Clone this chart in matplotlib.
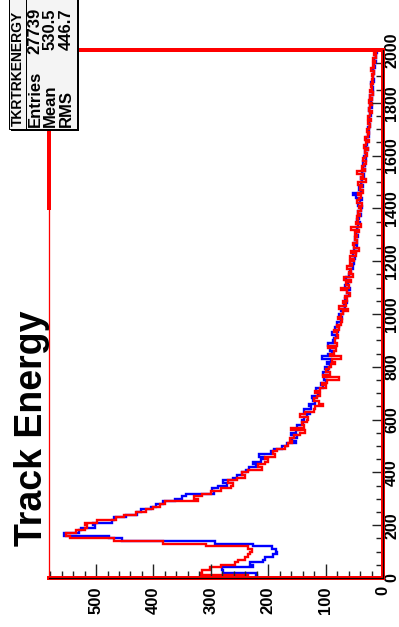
import numpy as np
import matplotlib
matplotlib.use("Agg")
import matplotlib.pyplot as plt
from matplotlib.patches import Rectangle
from matplotlib.lines import Line2D
from matplotlib.ticker import MultipleLocator

plt.rcParams['font.family'] = ['Liberation Sans', 'DejaVu Sans']

# Track energy histogram: 200 bins of 10 units from 0 to 2000
bin_edges = np.arange(0, 2001, 10)

counts_blue = [
    220, 221, 279, 281, 226, 231, 209, 206, 191, 184,
    186, 193, 226, 292, 455, 477, 556, 529, 527, 501,
    506, 472, 468, 447, 428, 421, 404, 396, 384, 362,
    350, 343, 294, 298, 287, 272, 279, 262, 255, 246,
    238, 233, 222, 226, 212, 208, 216, 196, 190, 176,
    168, 152, 158, 149, 160, 151, 144, 150, 139, 141,
    137, 132, 128, 137, 125, 129, 118, 122, 124, 113,
    112, 116, 104, 108, 99, 103, 97, 105, 96, 101,
    93, 98, 91, 106, 95, 88, 92, 84, 96, 87,
    85, 82, 88, 79, 84, 76, 80, 74, 71, 77,
    70, 73, 66, 68, 62, 67, 64, 60, 63, 58,
    66, 61, 57, 64, 59, 55, 58, 53, 56, 51,
    54, 49, 52, 47, 50, 46, 51, 45, 48, 44,
    47, 43, 46, 44, 40, 45, 41, 38, 43, 39,
    36, 44, 40, 37, 47, 52, 38, 41, 35, 39,
    36, 38, 33, 37, 32, 35, 31, 34, 30, 33,
    29, 31, 27, 30, 28, 26, 29, 25, 27, 24,
    26, 23, 25, 22, 24, 21, 23, 25, 20, 22,
    21, 19, 22, 18, 20, 17, 19, 21, 16, 18,
    17, 15, 18, 14, 16, 13, 15, 12, 14, 11,
]

counts_red = [
    235, 318, 316, 301, 283, 258, 252, 240, 236, 232,
    229, 235, 308, 383, 468, 545, 553, 535, 519, 515,
    520, 498, 466, 452, 431, 413, 400, 389, 380, 322,
    330, 316, 300, 282, 265, 262, 270, 255, 240, 245,
    236, 210, 218, 206, 200, 205, 188, 192, 185, 170,
    165, 158, 162, 155, 145, 136, 160, 138, 142, 133,
    130, 145, 136, 121, 118, 104, 112, 120, 115, 109,
    118, 110, 100, 106, 98, 76, 104, 92, 99, 94,
    90, 84, 88, 74, 92, 86, 82, 95, 81, 84,
    83, 79, 80, 85, 76, 81, 74, 72, 79, 73,
    70, 61, 76, 65, 69, 63, 66, 58, 62, 73,
    60, 64, 56, 68, 52, 60, 55, 62, 54, 57,
    51, 58, 47, 55, 42, 50, 53, 46, 49, 45,
    48, 42, 55, 39, 47, 43, 45, 40, 44, 38,
    42, 37, 46, 41, 38, 43, 35, 40, 36, 44,
    30, 39, 34, 45, 31, 36, 33, 29, 35, 32,
    28, 32, 26, 33, 29, 25, 31, 27, 24, 28,
    25, 22, 27, 21, 26, 23, 20, 24, 22, 19,
    24, 20, 22, 18, 23, 19, 21, 17, 20, 18,
    19, 15, 21, 16, 18, 14, 17, 13, 15, 12,
]

title = "Track Energy"
stats_name = "TKRTRKENERGY"
stats_labels = ["Entries", "Mean", "RMS"]
stats_values = ["27739", "530.5", "446.7"]

W, H = 399, 627
fig = plt.figure(figsize=(W / 100, H / 100), dpi=100)
fig.patch.set_facecolor("white")

# plot frame in pixel units (the whole canvas is turned on its side)
L, R, T, B = 49, 383, 50, 578
ax = fig.add_axes([L / W, (H - B) / H, (R - L) / W, (B - T) / H])
ax.set_xlim(582, 0)
ax.set_ylim(0, 2000)

ax.stairs(counts_blue, bin_edges, orientation="horizontal", baseline=None,
          color="#0000ff", lw=1.7)
ax.stairs(counts_red, bin_edges, orientation="horizontal", baseline=None,
          color="#ff0000", lw=1.7)

px = 0.72  # points per pixel
for side in ("bottom", "right"):
    ax.spines[side].set_color("#ff0000")
    ax.spines[side].set_linewidth(4 * px)
ax.spines["top"].set_color("#ff0000")
ax.spines["top"].set_linewidth(4 * px)
ax.spines["left"].set_color("#ff0000")
ax.spines["left"].set_linewidth(1.3 * px)

# dark axis lines over the red frame
ax.add_line(Line2D([0, 1], [0, 0], transform=ax.transAxes, color="black",
                   lw=1.2 * px, clip_on=False, zorder=5))
ax.add_line(Line2D([1, 1], [0, 1], transform=ax.transAxes, color="black",
                   lw=1.2 * px, clip_on=False, zorder=5))
# heavier piece of the left frame edge
ax.add_line(Line2D([0, 0], [(B - 208) / (B - T), (B - 130) / (B - T)],
                   transform=ax.transAxes, color="#ff0000", lw=4 * px,
                   clip_on=False, zorder=5))

ax.xaxis.set_major_locator(MultipleLocator(100))
ax.xaxis.set_minor_locator(MultipleLocator(20))
ax.yaxis.set_major_locator(MultipleLocator(200))
ax.yaxis.set_minor_locator(MultipleLocator(50))
ax.yaxis.tick_right()
ax.tick_params(axis="x", which="major", direction="in", length=14 * px,
               width=1.4 * px, color="#222222", pad=6.0, labelsize=12)
ax.tick_params(axis="x", which="minor", direction="in", length=7 * px,
               width=1.4 * px, color="#222222")
ax.tick_params(axis="y", which="major", direction="in", length=11 * px,
               width=1.4 * px, color="#222222", pad=0.8, labelsize=11.5,
               left=False, right=True, labelleft=False, labelright=True)
ax.tick_params(axis="y", which="minor", direction="in", length=7 * px,
               width=1.4 * px, color="#222222", left=False, right=True)
for lab in ax.get_xticklabels():
    lab.set_rotation(90)
    lab.set_fontweight("bold")
    lab.set_ha("center")
    lab.set_va("top")
for lab in ax.get_yticklabels():
    lab.set_rotation(90)
    lab.set_fontweight("bold")
    lab.set_ha("left")
    lab.set_va("center")

# overlay in pixel coordinates for the title and the statistics box
ov = fig.add_axes([0, 0, 1, 1], zorder=10)
ov.set_xlim(0, W)
ov.set_ylim(H, 0)
ov.axis("off")
ov.patch.set_alpha(0)

ov.text(42, 428, title, rotation=90, rotation_mode="anchor", ha="center",
        va="baseline", fontsize=27, fontweight="bold", color="black")

# statistics box with drop shadow
ov.add_patch(Rectangle((10.5, -5), 68, 136, facecolor="black", edgecolor="none"))
ov.add_patch(Rectangle((9, -5), 68, 134, facecolor="#f4f4f4",
                       edgecolor="black", lw=1.0 * px))
ov.add_line(Line2D([26, 26], [-5, 129], color="black", lw=1.0 * px))
ov.text(18, 68, stats_name, rotation=90, rotation_mode="anchor", ha="center",
        va="center", fontsize=10, fontweight="bold", color="black")
for xc, lab, val in zip([35, 50.5, 66], stats_labels, stats_values):
    ov.text(xc, 127, lab, rotation=90, rotation_mode="anchor", ha="left",
            va="center", fontsize=12, fontweight="bold", color="black")
    ov.text(xc, 8, val, rotation=90, rotation_mode="anchor", ha="right",
            va="center", fontsize=12, fontweight="bold", color="black")

fig.savefig("out.png", dpi=100, facecolor="white")
